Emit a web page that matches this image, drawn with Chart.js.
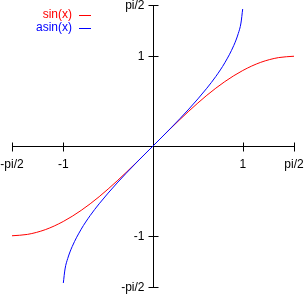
<!DOCTYPE html>
<html>
<head>
<meta charset="utf-8">
<title>sin(x) and asin(x)</title>
<script src="https://cdn.jsdelivr.net/npm/chart.js@4/dist/chart.umd.min.js"></script>
<style>
    html, body { margin: 0; padding: 0; background: #fff; }
    #plot { display: block; }
</style>
</head>
<body>
<canvas id="plot" width="304" height="294"></canvas>
<script>
// Values
const sinX = [-1.571, -1.4, -1.2, -1.0, -0.8, -0.6, -0.4, -0.2, 0, 0.2, 0.4, 0.6, 0.8, 1.0, 1.2, 1.4, 1.571];
const sinY = [-1.0, -0.985, -0.932, -0.841, -0.717, -0.565, -0.389, -0.199, 0, 0.199, 0.389, 0.565, 0.717, 0.841, 0.932, 0.985, 1.0];

const asinX = [-0.999, -0.98, -0.95, -0.9, -0.8, -0.7, -0.6, -0.4, -0.2, 0, 0.2, 0.4, 0.6, 0.7, 0.8, 0.9, 0.95, 0.98, 0.999];
const asinY = [-1.526, -1.37, -1.253, -1.12, -0.927, -0.775, -0.644, -0.412, -0.201, 0, 0.201, 0.412, 0.644, 0.775, 0.927, 1.12, 1.253, 1.37, 1.526];

const seriesNames = ['sin(x)', 'asin(x)'];
const seriesColors = ['#ff0000', '#0000ff'];

const tickValues = [-Math.PI / 2, -1, 1, Math.PI / 2];
const tickLabels = ['-pi/2', '-1', '1', 'pi/2'];

const FONT = '12px "Liberation Sans", Arial, sans-serif';

function toPoints(xs, ys) {
    return xs.map((x, i) => ({ x: x, y: ys[i] }));
}

function setTicks(scale) {
    scale.ticks = tickValues.map(v => ({ value: v }));
}

function tickLabel(value) {
    const i = tickValues.findIndex(v => Math.abs(v - value) < 1e-6);
    return i >= 0 ? tickLabels[i] : '';
}

// Tick marks that cross the axis line on both sides,
// plus the y labels (Chart.js puts no gap between a centred y axis and its labels)
const crossTicks = {
    id: 'crossTicks',
    afterDraw(chart) {
        const ctx = chart.ctx;
        const xs = chart.scales.x;
        const ys = chart.scales.y;
        const x0 = Math.round(xs.getPixelForValue(0)) + 0.5;
        const y0 = Math.round(ys.getPixelForValue(0)) + 0.5;
        ctx.save();
        ctx.strokeStyle = '#000';
        ctx.lineWidth = 1;
        ctx.beginPath();
        xs.ticks.forEach(t => {
            const px = Math.round(xs.getPixelForValue(t.value)) + 0.5;
            ctx.moveTo(px, y0 - 4);
            ctx.lineTo(px, y0 + 5);
        });
        ys.ticks.forEach(t => {
            const py = Math.round(ys.getPixelForValue(t.value)) + 0.5;
            ctx.moveTo(x0 - 5, py);
            ctx.lineTo(x0 + 5, py);
        });
        ctx.stroke();

        ctx.font = FONT;
        ctx.fillStyle = '#000';
        ctx.textAlign = 'right';
        ctx.textBaseline = 'middle';
        ys.ticks.forEach(t => {
            ctx.fillText(tickLabel(t.value), x0 - 9, ys.getPixelForValue(t.value) + 0.5);
        });
        ctx.restore();
    }
};

// gnuplot style key: right aligned text with a short line sample after it
const keyBox = {
    id: 'keyBox',
    afterDraw(chart) {
        const ctx = chart.ctx;
        ctx.save();
        ctx.font = FONT;
        ctx.textAlign = 'right';
        ctx.textBaseline = 'middle';
        chart.data.datasets.forEach((ds, i) => {
            const y = 15 + i * 12.5;
            ctx.fillStyle = ds.borderColor;
            ctx.fillText(ds.label, 72, y);
            ctx.strokeStyle = ds.borderColor;
            ctx.lineWidth = 1;
            ctx.beginPath();
            ctx.moveTo(79, Math.round(y) + 0.5);
            ctx.lineTo(91, Math.round(y) + 0.5);
            ctx.stroke();
        });
        ctx.restore();
    }
};

Chart.defaults.font.family = '"Liberation Sans", Arial, sans-serif';
Chart.defaults.font.size = 12;
Chart.defaults.color = '#000';

new Chart(document.getElementById('plot'), {
    type: 'line',
    data: {
        datasets: [
            {
                label: seriesNames[0],
                data: toPoints(sinX, sinY),
                borderColor: seriesColors[0],
                borderWidth: 1,
                pointRadius: 0,
                cubicInterpolationMode: 'monotone',
                fill: false,
                order: 1
            },
            {
                label: seriesNames[1],
                data: toPoints(asinX, asinY),
                borderColor: seriesColors[1],
                borderWidth: 1,
                pointRadius: 0,
                cubicInterpolationMode: 'monotone',
                fill: false,
                order: 0
            }
        ]
    },
    options: {
        responsive: false,
        animation: false,
        events: [],
        layout: {
            padding: { left: 12, right: 10, top: 5, bottom: 7 }
        },
        scales: {
            x: {
                type: 'linear',
                position: { y: 0 },
                min: -Math.PI / 2,
                max: Math.PI / 2,
                afterBuildTicks: setTicks,
                // grid not drawn, tickLength only pushes the labels down
                grid: { display: false, drawTicks: true, tickLength: 11 },
                border: { display: true, color: '#000', width: 1 },
                ticks: {
                    autoSkip: false,
                    maxRotation: 0,
                    padding: 0,
                    color: '#000',
                    callback: tickLabel
                }
            },
            y: {
                type: 'linear',
                position: { x: 0 },
                min: -Math.PI / 2,
                max: Math.PI / 2,
                afterBuildTicks: setTicks,
                grid: { display: false, drawTicks: false },
                border: { display: true, color: '#000', width: 1 },
                ticks: {
                    display: false,
                    autoSkip: false,
                    callback: tickLabel
                }
            }
        },
        plugins: {
            legend: { display: false },
            tooltip: { enabled: false }
        }
    },
    plugins: [crossTicks, keyBox]
});
</script>
</body>
</html>
